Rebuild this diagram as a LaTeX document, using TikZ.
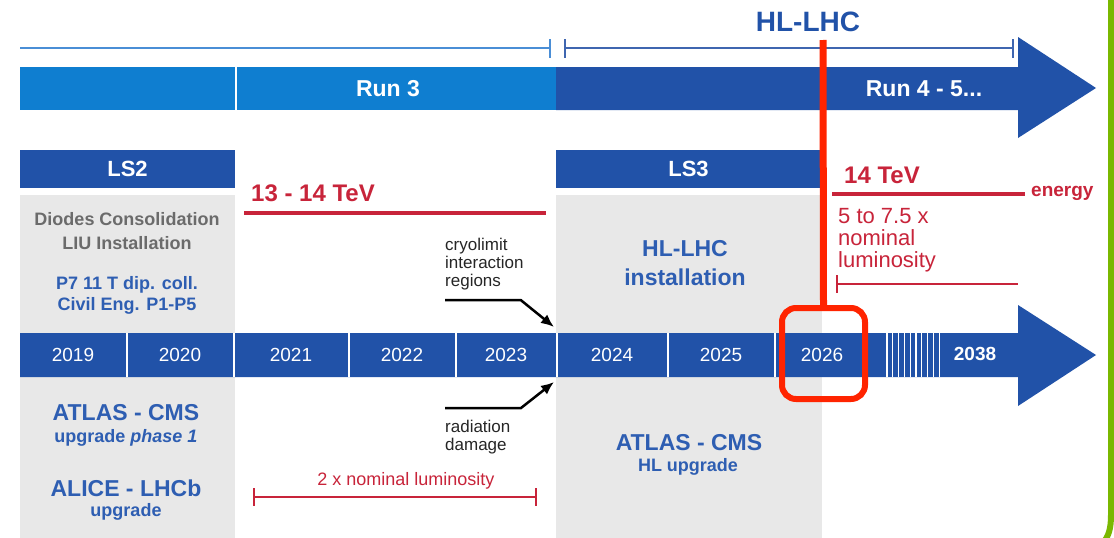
\documentclass[tikz,border=0pt]{standalone}
\usepackage{fontspec}
\setmainfont{Liberation Sans}
\usepackage{tikz}
\usetikzlibrary{calc,arrows.meta}
\tikzset{>={Latex[length=13pt,width=11pt]}}
\definecolor{darkblue}{HTML}{2152A8}
\definecolor{lightblue}{HTML}{0F7ED0}
\definecolor{boxgray}{HTML}{E8E8E8}
\definecolor{textblue}{HTML}{2E5EB2}
\definecolor{textred}{HTML}{C8243A}
\definecolor{textgray}{HTML}{6B6B6B}
\definecolor{hired}{HTML}{FF2400}
\definecolor{runline}{HTML}{4A8ED6}
\definecolor{hlline}{HTML}{3F66B0}
\definecolor{greenbar}{HTML}{7AB800}
\tikzset{
  txt/.style={inner sep=0pt, align=center},
  runlabel/.style={txt, text=white, font=\fontsize{23}{23}\selectfont\bfseries},
  yearlabel/.style={txt, text=white, font=\fontsize{19}{19}\selectfont},
  lshead/.style={fill=darkblue, text=white, minimum height=38pt, inner sep=0pt,
                 font=\fontsize{22}{22}\selectfont\bfseries},
  bigblue/.style={txt, text=textblue, font=\fontsize{23}{29}\selectfont\bfseries},
  smallblue/.style={txt, text=textblue, font=\fontsize{18}{21}\selectfont\bfseries},
  graytext/.style={txt, text=textgray, font=\fontsize{18}{24}\selectfont\bfseries},
  notetext/.style={txt, align=left, text=black!85, font=\fontsize{17}{18}\selectfont},
  redbig/.style={txt, text=textred, font=\fontsize{24}{24}\selectfont\bfseries},
  rednote/.style={txt, text=textred, font=\fontsize{18}{18}\selectfont},
}
\begin{document}
\begin{tikzpicture}[x=1pt, y=-1pt]
  \useasboundingbox[fill=white] (0,0) rectangle (1114,538);
  % 灰色背景 LS2 / LS3
  \fill[boxgray] (20,195) rectangle (235,538);
  \fill[boxgray] (556,195) rectangle (822,538);
  % 上方区间线
  \draw[runline, line width=2.5pt] (20,48) -- (550,48);
  \draw[runline, line width=2.5pt] (550,39) -- (550,58);
  \draw[hlline, line width=2pt] (565,48) -- (1013,48);
  \foreach \x in {565,1013}
    \draw[hlline, line width=2pt] (\x,39) -- (\x,58);
  \node[txt, text=darkblue, font=\fontsize{28}{28}\selectfont\bfseries] (hllhc) at (808,22) {HL-LHC};
  % Run 箭头
  \fill[lightblue] (20,67) rectangle (556,110);
  \draw[white, line width=1.2pt] (236,67) -- (236,110);
  \fill[darkblue] (556,67) -- (1018,67) -- (1018,37) -- (1096,88) -- (1018,138)
                  -- (1018,110) -- (556,110) -- cycle;
  \node[runlabel] (run3) at (388,89) {Run 3};
  \node[runlabel] (run45) at (924,89) {Run 4 - 5...};
  % LS 标题
  \node[lshead, minimum width=215pt] (ls2) at (127.5,169) {LS2};
  \node[lshead, minimum width=265pt] (ls3) at (688.5,169) {LS3};
  \node[graytext] (diodes) at (127,231) {Diodes Consolidation\\LIU Installation};
  \node[smallblue] (p7) at (127,295) {P7 11 T dip. coll.\\Civil Eng. P1-P5};
  \node[bigblue] (hlinst) at (685,263) {HL-LHC\\installation};
  % 能量
  \node[redbig, anchor=west] (tev13) at (251,193) {13 - 14 TeV};
  \draw[textred, line width=4pt] (244,213) -- (546,213);
  \node[redbig, anchor=west] (tev14) at (844,175) {14 TeV};
  \draw[textred, line width=4pt] (832,194) -- (1025,194);
  \node[txt, text=textred, font=\fontsize{19}{19}\selectfont\bfseries, anchor=west] (energy) at (1031,193) {energy};
  \node[txt, align=left, text=textred, font=\fontsize{22}{22}\selectfont, anchor=north west] (lumi5) at (838,208) {5 to 7.5 x\\nominal\\luminosity};
  \draw[textred, line width=2pt] (837,284) -- (1018,284);
  \draw[textred, line width=2pt] (837,275) -- (837,293);
  % 年份时间轴
  \fill[darkblue] (20,333) -- (1018,333) -- (1018,305) -- (1096,355) -- (1018,406)
                  -- (1018,377) -- (20,377) -- cycle;
  \foreach \x in {127,234,349,456,557,668,775}
    \draw[white, line width=1.5pt] (\x,333) -- (\x,377);
  \foreach \i in {0,...,9} % 省略的年份
    \draw[white, line width=1.2pt] (887+\i*5.8,333) -- (887+\i*5.8,377);
  \foreach \x/\yr in {73/2019,180/2020,291/2021,402/2022,506/2023,612/2024,721/2025,822/2026}
    \node[yearlabel] (y\yr) at (\x,355) {\yr};
  \node[yearlabel, font=\fontsize{19}{19}\selectfont\bfseries] (y2038) at (975,354) {2038};
  % 注释箭头
  \node[notetext, anchor=north west] (cryo) at (445,238) {cryolimit\\interaction\\regions};
  \coordinate (cryotip) at (554,327);
  \draw[->, line width=2.5pt] ([yshift=-10pt]cryo.south west) -- ++(76,0) -- (cryotip);
  \node[notetext, anchor=north west] (rad) at (445,420) {radiation\\damage};
  \coordinate (radtip) at (554,382);
  \draw[->, line width=2.5pt] ([yshift=12pt]rad.north west) -- ++(76,0) -- (radtip);
  % 下方文字
  \node[bigblue] (atlas1) at (126,413) {ATLAS - CMS};
  \node[smallblue] (upg1) at (126,438) {upgrade \textit{phase 1}};
  \node[bigblue] (alice) at (126,488) {ALICE - LHCb};
  \node[smallblue] (upg2) at (126,512) {upgrade};
  \node[bigblue] (atlas2) at (689,443) {ATLAS - CMS};
  \node[smallblue] (upg3) at (688,467) {HL upgrade};
  \node[rednote] (lumi2) at (406,481) {2 x nominal luminosity};
  \draw[textred, line width=2pt] (254,497) -- (536,497);
  \foreach \x in {254,536}
    \draw[textred, line width=2pt] (\x,488) -- (\x,506);
  % 2026 红框
  \node[draw=hired, line width=6pt, rounded corners=14pt, minimum width=83pt,
        minimum height=91pt, inner sep=0pt] (hilite) at (823.5,353.5) {};
  \coordinate (redtop) at (823,40);
  \draw[hired, line width=7pt] (redtop) -- (hilite.north);
  % 右侧绿线
  \draw[greenbar, line width=6pt] (1111,-5) -- (1111,515)
        .. controls (1111,530) and (1108,536) .. (1104,542);
\end{tikzpicture}
\end{document}
